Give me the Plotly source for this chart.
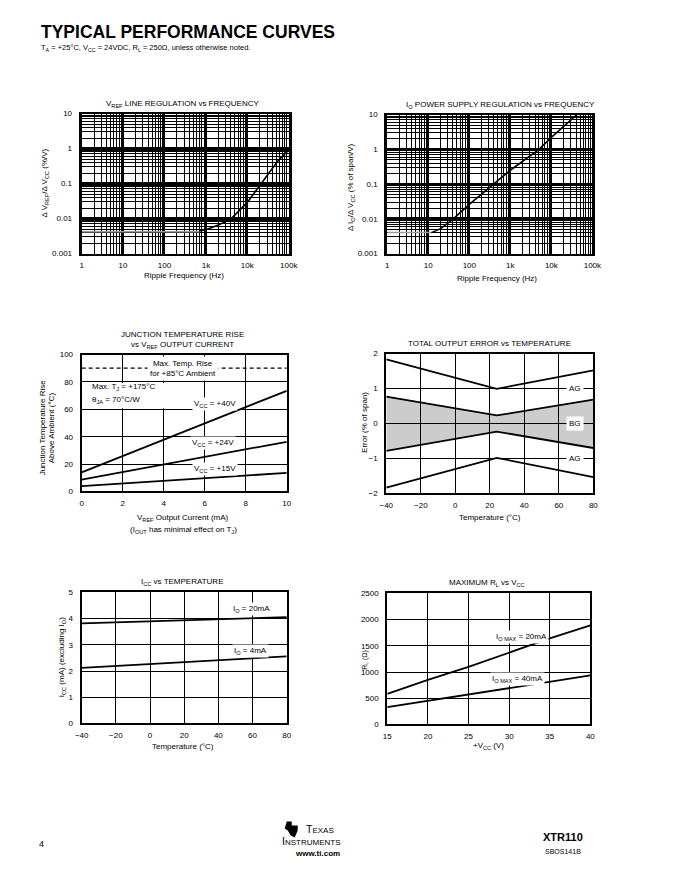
import plotly.graph_objects as go

W, H = 680, 880
FONT = "Liberation Sans, Arial, Helvetica, sans-serif"

# empirical mapping from target pixel to paper fraction, fitted to how the
# photographed page places the paper
X_OFF, X_SPAN = 6.0, 666.0
Y_OFF, Y_SPAN = 4.4, 871.2


def X(p):
    return (p - X_OFF) / X_SPAN


def Y(p):
    return 1 - (p - Y_OFF) / Y_SPAN


# ---------------- data ----------------
# 1: VREF line regulation vs frequency
vref_flat_freq = [1, 700]
vref_flat_val = [0.0042, 0.0042]
vref_freq = [700, 1000, 2000, 4000, 10000, 20000, 35000, 55000, 100000]
vref_reg = [0.0044, 0.0048, 0.0065, 0.0097, 0.029, 0.09, 0.23, 0.45, 0.9]

# 2: IO power supply regulation vs frequency
io_flat_freq = [1, 12]
io_flat_val = [0.004, 0.004]
io_freq = [12, 15, 20, 30, 40, 100, 300, 1000, 5000, 10000, 42000]
io_reg = [0.004, 0.0044, 0.0052, 0.0075, 0.0098, 0.026, 0.078, 0.25, 1.0, 2.2, 10]

freq_ticks = [1, 10, 100, 1000, 10000, 100000]
freq_labels = ["1", "10", "100", "1k", "10k", "100k"]
reg_ticks = [0.001, 0.01, 0.1, 1, 10]
reg_labels = ["0.001", "0.01", "0.1", "1", "10"]

# 3: junction temperature rise vs VREF output current
iref_ma = [0, 2, 4, 6, 8, 10]
rise_40v = [14.0, 25.8, 38.0, 49.6, 61.7, 73.5]
rise_24v = [8.7, 14.2, 19.6, 25.4, 30.8, 36.3]
rise_15v = [3.9, 5.9, 7.8, 9.6, 11.7, 13.6]
max_rise = 90

# 4: total output error vs temperature
err_temp = [-40, 24, 80]
ag_upper = [1.83, 0.99, 1.52]
bg_upper = [0.77, 0.23, 0.68]
bg_lower = [-0.78, -0.23, -0.70]
ag_lower = [-1.83, -0.98, -1.53]

# 5: ICC vs temperature
icc_temp = [-40, 0, 40, 80]
icc_20ma = [3.82, 3.90, 3.98, 4.06]
icc_4ma = [2.12, 2.27, 2.41, 2.56]

# 6: maximum RL vs VCC
vcc = [15, 20, 25, 30, 35, 40]
rl_20ma = [585, 852, 1100, 1368, 1641, 1889]
rl_40ma = [331, 452, 573, 687, 808, 935]

# ---------------- figure ----------------
fig = go.Figure()
LW = 1.8


def line(x, y, ax, color="black", width=LW, dash=None, fill=None, fillcolor=None):
    fig.add_trace(go.Scatter(
        x=x, y=y, mode="lines", xaxis="x" + ax, yaxis="y" + ax,
        line=dict(color=color, width=width, dash=dash),
        fill=fill, fillcolor=fillcolor, showlegend=False, hoverinfo="skip"))


line(vref_flat_freq, vref_flat_val, "", color="#9a9a9a", width=1.5)
line(vref_freq, vref_reg, "", width=1.6)
line(io_flat_freq, io_flat_val, "2", color="#9a9a9a", width=1.5)
line(io_freq, io_reg, "2", width=1.6)

line(iref_ma, rise_40v, "3")
line(iref_ma, rise_24v, "3")
line(iref_ma, rise_15v, "3")
line([0, 10], [max_rise, max_rise], "3", width=1.2, dash="4px,3px")

line(err_temp, bg_upper, "4")
line(err_temp, bg_lower, "4", fill="tonexty", fillcolor="rgba(0,0,0,0.2)")
line(err_temp, ag_upper, "4")
line(err_temp, ag_lower, "4")

line(icc_temp, icc_20ma, "5")
line(icc_temp, icc_4ma, "5")

line(vcc, rl_20ma, "6")
line(vcc, rl_40ma, "6")

# axis domains in pixels: (left, right, top, bottom)
boxes = {
    "": (81, 289, 114, 254),
    "2": (388, 594, 115, 254),
    "3": (81, 287, 355, 492),
    "4": (387, 595, 354, 494),
    "5": (81, 287, 593, 724),
    "6": (388, 592, 594, 725),
}

tickfont = dict(family=FONT, size=8, color="black")
common = dict(showline=True, mirror=True, linecolor="black", zeroline=False,
              gridcolor="black", showgrid=True, ticks="", tickfont=tickfont,
              fixedrange=True)

layout_axes = {}
minor_vals_x = [m * 10 ** d for d in range(0, 5) for m in range(2, 10)]
minor_vals_y = [m * 10.0 ** d for d in range(-3, 1) for m in range(2, 10)]

for key, (l, r, t, b) in boxes.items():
    xn = "xaxis" + key
    yn = "yaxis" + key
    xa = dict(common, domain=[X(l), X(r)], anchor="y" + key, ticklabelstandoff=3)
    ya = dict(common, domain=[Y(b), Y(t)], anchor="x" + key, ticklabelstandoff=5)
    if key in ("", "2"):
        xa.update(type="log", range=[0, 5], tickmode="array", tickvals=freq_ticks,
                  ticktext=freq_labels, gridwidth=2, linewidth=2,
                  minor=dict(tickvals=minor_vals_x, showgrid=True,
                             gridcolor="black", gridwidth=1, ticks=""))
        ya.update(type="log", range=[-3, 1], tickmode="array", tickvals=reg_ticks,
                  ticktext=reg_labels, gridwidth=3, linewidth=3,
                  minor=dict(tickvals=minor_vals_y, showgrid=True,
                             gridcolor="black", gridwidth=1, ticks=""))
    elif key == "3":
        xa.update(range=[0, 10], dtick=2, tick0=0, gridwidth=1.3, linewidth=2)
        ya.update(range=[0, 100], dtick=20, tick0=0, gridwidth=1.3, linewidth=2)
    elif key == "4":
        xa.update(range=[-40, 80], dtick=20, tick0=-40, gridwidth=1.3, linewidth=2)
        ya.update(range=[-2, 2], dtick=1, tick0=-2, gridwidth=1.3, linewidth=2)
    elif key == "5":
        xa.update(range=[-40, 80], dtick=20, tick0=-40, gridwidth=1.3, linewidth=2)
        ya.update(range=[0, 5], dtick=1, tick0=0, gridwidth=1.3, linewidth=2)
    elif key == "6":
        xa.update(range=[15, 40], dtick=5, tick0=15, gridwidth=1.3, linewidth=2)
        ya.update(range=[0, 2500], dtick=500, tick0=0, gridwidth=1.3, linewidth=2)
    layout_axes[xn] = xa
    layout_axes[yn] = ya

anns = []


def ann(text, x, y, size=8, xanchor="center", yanchor="middle", angle=0,
        bg=None, align="center", xref="paper", yref="paper", pix=True, pad=1):
    if pix and xref == "paper":
        x = X(x)
    if pix and yref == "paper":
        y = Y(y)
    anns.append(dict(text=text, x=x, y=y, xref=xref, yref=yref, showarrow=False,
                     xanchor=xanchor, yanchor=yanchor, textangle=angle,
                     font=dict(family=FONT, size=size, color="black"),
                     bgcolor=bg, align=align, borderpad=pad))


# header
ann("<b>TYPICAL PERFORMANCE CURVES</b>", 38, 32, size=17.5, xanchor="left")
ann("T<sub>A</sub> = +25°C, V<sub>CC</sub> = 24VDC, R<sub>L</sub> = 250Ω, unless otherwise noted.",
    38, 48, size=7.5, xanchor="left")

# subplot titles
ann("V<sub>REF</sub> LINE REGULATION vs FREQUENCY", 183, 104)
ann("I<sub>O</sub> POWER SUPPLY REGULATION vs FREQUENCY", 502, 105)
ann("JUNCTION TEMPERATURE RISE", 182, 335)
ann("vs V<sub>REF</sub> OUTPUT CURRENT", 182, 345.5)
ann("TOTAL OUTPUT ERROR vs TEMPERATURE", 491, 344)
ann("I<sub>CC</sub> vs TEMPERATURE", 182, 583)
ann("MAXIMUM R<sub>L</sub> vs V<sub>CC</sub>", 488, 584)

# x-axis titles
ann("Ripple Frequency (Hz)", 184, 276)
ann("Ripple Frequency (Hz)", 498, 279)
ann("V<sub>REF</sub> Output Current (mA)", 183, 519)
ann("(I<sub>OUT</sub> has minimal effect on T<sub>J</sub>)", 183, 531)
ann("Temperature (°C)", 491, 518)
ann("Temperature (°C)", 183, 747)
ann("+V<sub>CC</sub> (V)", 490, 747)

# y-axis titles
ann("Δ V<sub>REF</sub>/Δ V<sub>CC</sub> (%/V)", 44, 183, angle=-90)
ann("Δ I<sub>O</sub>/Δ V<sub>CC</sub> (% of span/V)", 351, 187, angle=-90)
ann("Junction Temperature Rise", 42, 428, angle=-90)
ann("Above Ambient (°C)", 51, 428, angle=-90)
ann("Error (% of span)", 365, 423, angle=-90)
ann("I<sub>CC</sub> (mA) (excluding I<sub>O</sub>)", 62, 658, angle=-90)
ann("R<sub>L</sub> (Ω)", 366, 660, angle=-90, size=7)

# in-plot labels
ann("Max. Temp. Rise<br>for +85°C Ambient", 4.95, 89.5, bg="white",
    xref="x3", yref="y3", pix=False, pad=2)
ann("Max. T<sub>J</sub> = +175°C", 0.4, 76, xref="x3", yref="y3", pix=False,
    xanchor="left")
ann("θ<sub>JA</sub> = 70°C/W", 0.4, 66.5, xref="x3", yref="y3", pix=False,
    xanchor="left")
ann("V<sub>CC</sub> = +40V", 6.5, 63.7, bg="white", xref="x3", yref="y3", pix=False)
ann("V<sub>CC</sub> = +24V", 6.4, 35.5, bg="white", xref="x3", yref="y3", pix=False)
ann("V<sub>CC</sub> = +15V", 6.5, 16.5, bg="white", xref="x3", yref="y3", pix=False)

for v, t in [(1, "AG"), (0, "BG"), (-1, "AG")]:
    ann(t, 69.5, v, bg="white", xref="x4", yref="y4", pix=False, pad=2)

ann("I<sub>O</sub> = 20mA", 59.5, 4.35, bg="white", xref="x5", yref="y5", pix=False)
ann("I<sub>O</sub> = 4mA", 59, 2.75, bg="white", xref="x5", yref="y5", pix=False)

ann("I<sub>O MAX</sub> = 20mA", 31.5, 1660, bg="white", xref="x6", yref="y6", pix=False)
ann("I<sub>O MAX</sub> = 40mA", 31, 875, bg="white", xref="x6", yref="y6", pix=False)

# footer
ann("4", 41, 845, size=9)
ann("T<span style='font-size:8px'>EXAS</span>", 304, 830, size=10.5, xanchor="left")
ann("I<span style='font-size:8px'>NSTRUMENTS</span>", 280, 842, size=10.5, xanchor="left")
ann("<b>www.ti.com</b>", 318, 854, size=8)
ann("<b>XTR110</b>", 565, 838, size=11)
ann("SBOS141B", 565, 852, size=7)

# rough TI logo glyph
pts = [(287, 822), (292, 822), (292, 826), (298, 826), (298, 831),
       (295, 838), (291, 836), (288, 831), (285, 829)]
path = "M " + " L ".join(f"{X(px):.5f},{Y(py):.5f}" for px, py in pts) + " Z"

shapes = [
    dict(type="path", path=path, xref="paper", yref="paper",
         fillcolor="black", line=dict(width=0)),
    # white note box inside the junction-temperature chart
    dict(type="rect", xref="x3", yref="y3", x0=0.08, x1=4.6, y0=60.8, y1=79.2,
         fillcolor="white", line=dict(width=0), layer="above"),
]

fig.update_layout(
    width=W, height=H, autosize=False, margin=dict(l=0, r=0, t=0, b=0),
    paper_bgcolor="white", plot_bgcolor="white",
    annotations=anns, showlegend=False, shapes=shapes,
    **layout_axes,
)

post = ("document.documentElement.style.margin='0';"
        "document.body.style.margin='0';"
        "document.body.style.overflow='hidden';"
        "document.documentElement.style.overflow='hidden';")

fig.write_html("out.html", config={"displayModeBar": False, "responsive": False},
               post_script=post)
